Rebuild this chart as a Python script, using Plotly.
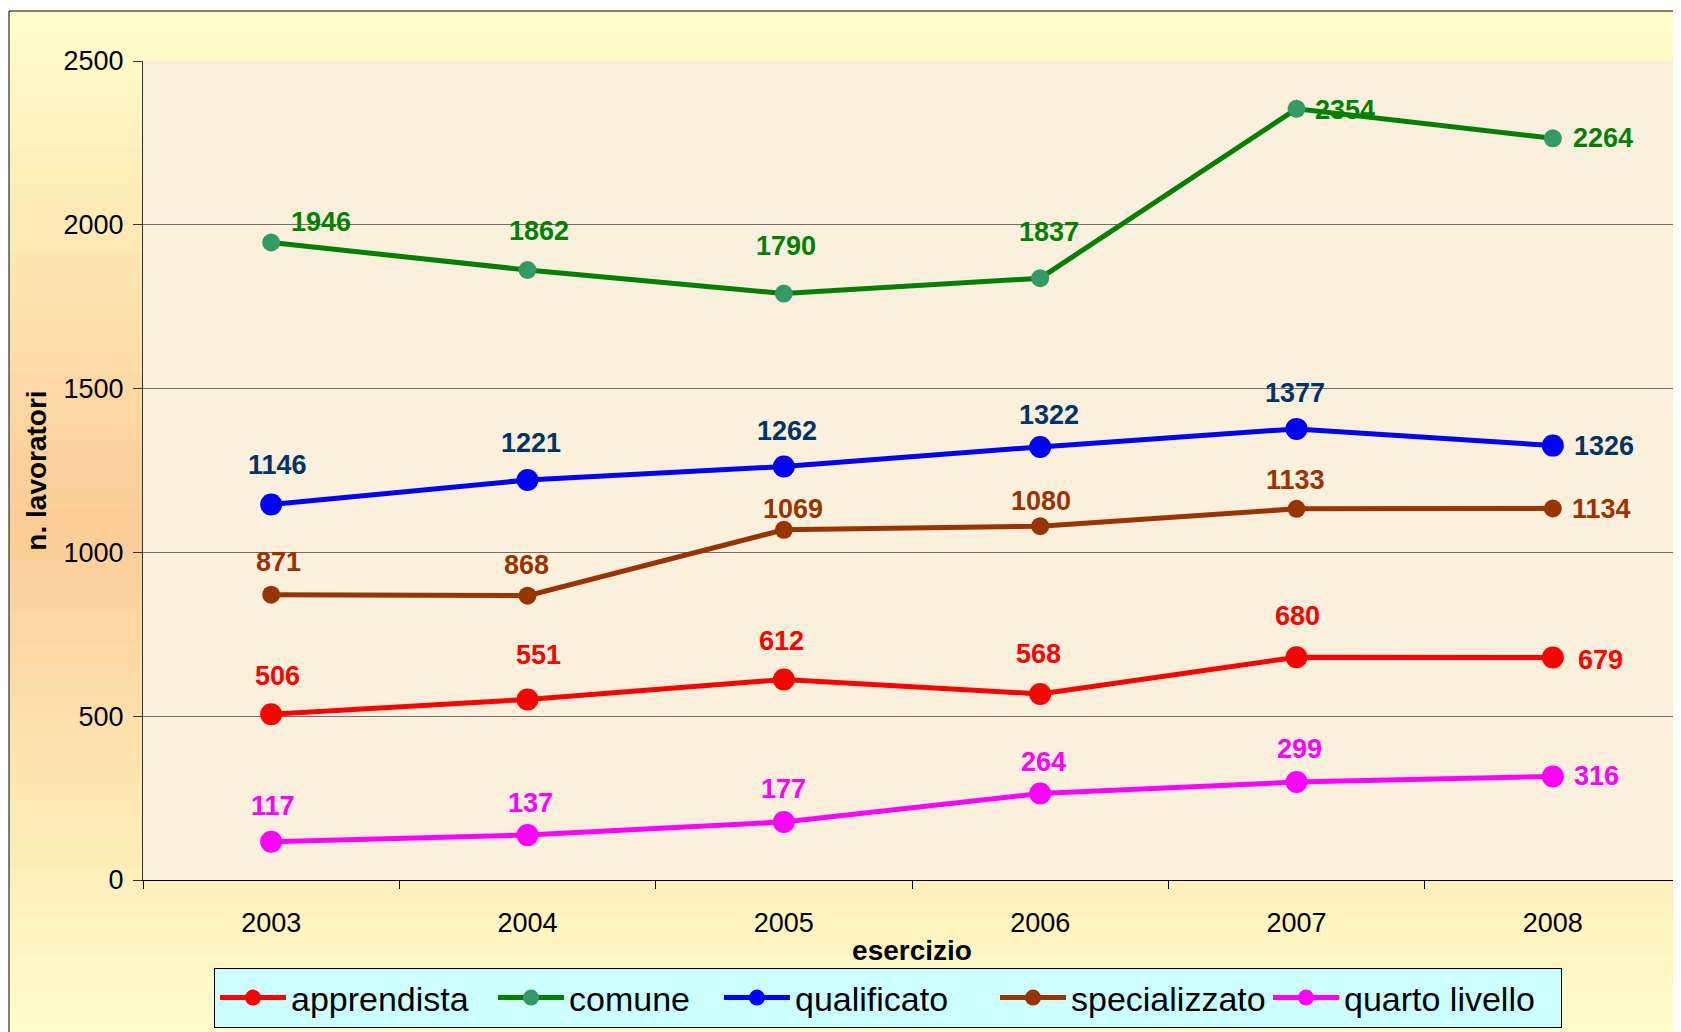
import plotly.graph_objects as go

# ---------------- data ----------------
years = ["2003", "2004", "2005", "2006", "2007", "2008"]
apprendista = [506, 551, 612, 568, 680, 679]
comune = [1946, 1862, 1790, 1837, 2354, 2264]
qualificato = [1146, 1221, 1262, 1322, 1377, 1326]
specializzato = [871, 868, 1069, 1080, 1133, 1134]
quarto_livello = [117, 137, 177, 264, 299, 316]

series_names = ["apprendista", "comune", "qualificato", "specializzato", "quarto livello"]
series_values = [apprendista, comune, qualificato, specializzato, quarto_livello]

# ---------------- style ----------------
line_colors = ["#FF0000", "#008000", "#0000FF", "#993300", "#FF00FF"]
marker_colors = ["#FF0000", "#339966", "#0000FF", "#993300", "#FF00FF"]
label_colors = ["#FF0000", "#008000", "#003366", "#993300", "#FF00FF"]
marker_sizes = [22, 18, 22, 18, 22]
legend_entry_widths = [197, 145, 195, 192, 212]

# label offsets in screen pixels (dx right, dy down) relative to each marker
label_offsets = [
    [(6, -38), (11, -44), (-2, -39), (-2, -40), (1, -41), (48, 2)],
    [(50, -20), (11, -39), (2, -48), (9, -46), (48, 1), (50, 0)],
    [(6, -40), (3, -37), (3, -36), (9, -32), (-2, -36), (51, 0)],
    [(7, -33), (-1, -31), (9, -21), (1, -25), (-1, -29), (49, 0)],
    [(2, -36), (3, -32), (0, -33), (3, -32), (3, -33), (44, 0)],
]

FONT = "Liberation Sans, Arial, sans-serif"
FIGW, FIGH = 1673, 1024
L, T, W, H = 135, 53, 1538, 819
PAGE_OFF = 8


def pxx(x_page):
    return (x_page - PAGE_OFF - L) / W


def pxy(y_page):
    return ((T + H) - (y_page - PAGE_OFF)) / H


fig = go.Figure()

for name, vals, lc, mc, ms, lw in zip(series_names, series_values, line_colors,
                                      marker_colors, marker_sizes, legend_entry_widths):
    fig.add_trace(go.Scatter(
        x=years, y=vals, name=name, mode="lines+markers",
        line=dict(color=lc, width=5),
        marker=dict(color=mc, size=ms),
        legendwidth=lw,
    ))

annotations = []
for vals, col, offs in zip(series_values, label_colors, label_offsets):
    for i, (v, (dx, dy)) in enumerate(zip(vals, offs)):
        annotations.append(dict(
            x=i, y=v, xref="x", yref="y", text=str(v), showarrow=False,
            xanchor="center", yanchor="middle", xshift=dx, yshift=-dy,
            font=dict(family=FONT, size=27, color=col, weight="bold"),
        ))

# background gradient (yellow -> orange -> yellow) inside the outer frame
shapes = []
top_c = (255, 255, 204)
mid_c = (252, 204, 150)
y_start, y_mid, y_end = 11, 520, 1040
n = 60
for i in range(n):
    y0 = y_start + (y_end - y_start) * i / n
    y1 = y_start + (y_end - y_start) * (i + 1) / n
    yc = (y0 + y1) / 2
    if yc <= y_mid:
        t = (yc - y_start) / (y_mid - y_start)
    else:
        t = (y_end - yc) / (y_end - y_mid)
    c = tuple(round(a + (b - a) * t) for a, b in zip(top_c, mid_c))
    shapes.append(dict(
        type="rect", xref="paper", yref="paper", layer="below",
        x0=pxx(9), x1=pxx(1700), y0=pxy(y1 + 0.5), y1=pxy(y0),
        fillcolor="rgb(%d,%d,%d)" % c, line=dict(width=0),
    ))
# plot area background
shapes.append(dict(type="rect", xref="paper", yref="paper", layer="below",
                   x0=0, x1=1, y0=0, y1=1, fillcolor="#FAF0DC", line=dict(width=0)))
# outer frame
shapes.append(dict(type="rect", xref="paper", yref="paper", layer="below",
                   x0=pxx(9), x1=pxx(1720), y0=pxy(1060), y1=pxy(11),
                   fillcolor="rgba(0,0,0,0)", line=dict(color="#000000", width=1)))

fig.update_layout(
    width=FIGW, height=FIGH,
    margin=dict(l=L, r=FIGW - L - W, t=T, b=FIGH - T - H, autoexpand=False),
    paper_bgcolor="#FFFFFF",
    plot_bgcolor="rgba(0,0,0,0)",
    font=dict(family=FONT, color="#000000"),
    shapes=shapes,
    annotations=annotations,
    showlegend=True,
    legend=dict(
        orientation="h", x=pxx(214), y=pxy(968), xanchor="left", yanchor="top",
        bgcolor="#CCFFFF", bordercolor="#000000", borderwidth=1,
        font=dict(family=FONT, size=34, color="#000000"),
        itemwidth=66, tracegroupgap=0,
    ),
    xaxis=dict(
        type="category", range=[-0.5, 5.5], tickson="boundaries",
        ticks="outside", ticklen=8, tickcolor="#000000",
        showline=True, linecolor="#000000", linewidth=1,
        showgrid=False, zeroline=False,
        tickfont=dict(family=FONT, size=27, color="#000000"),
        ticklabelstandoff=19,
        title=dict(text="esercizio", standoff=2,
                   font=dict(family=FONT, size=28, color="#000000", weight="bold")),
        automargin=False,
    ),
    yaxis=dict(
        range=[0, 2500], dtick=500, tick0=0,
        ticks="outside", ticklen=9, tickcolor="#333333",
        showline=True, linecolor="#333333", linewidth=1,
        showgrid=True, gridcolor="#707070", gridwidth=1, zeroline=False,
        tickfont=dict(family=FONT, size=27, color="#000000"),
        ticklabelstandoff=4,
        title=dict(text="n. lavoratori", standoff=8,
                   font=dict(family=FONT, size=28, color="#000000", weight="bold")),
        automargin=False,
    ),
)

fig.write_html("out.html")
